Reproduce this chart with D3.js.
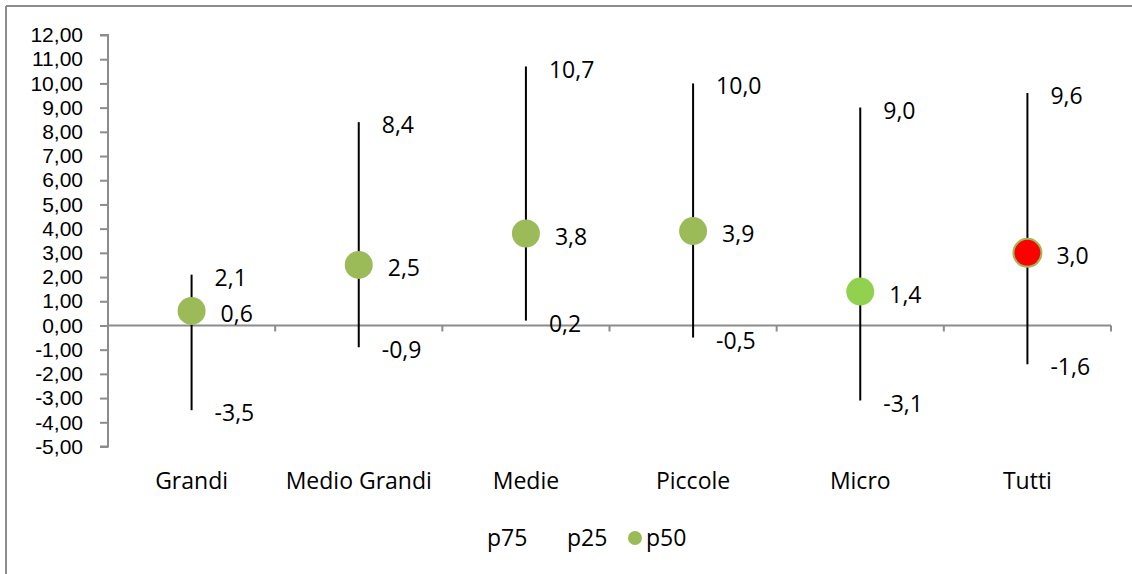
<!DOCTYPE html>
<html>
<head>
<meta charset="utf-8">
<script src="https://cdn.jsdelivr.net/npm/d3@7"></script>
<style>
  body { margin: 0; background: #fff; }
  svg { display: block; font-family: "Open Sans", "Liberation Sans", sans-serif; }
</style>
</head>
<body>
<svg id="chart" width="1132" height="574"></svg>
<script>
// data
const categories = ["Grandi", "Medio Grandi", "Medie", "Piccole", "Micro", "Tutti"];
const p75 = [2.1, 8.4, 10.7, 10.0, 9.0, 9.6];
const p25 = [-3.5, -0.9, 0.2, -0.5, -3.1, -1.6];
const p50 = [0.6, 2.5, 3.8, 3.9, 1.4, 3.0];
const dotColors = ["#9BBB59", "#9BBB59", "#9BBB59", "#9BBB59", "#92D050", "#FF0000"];
const yTicks = d3.range(-5, 13, 1);
const legendNames = ["p75", "p25", "p50"];

const fmt = (v, d) => v.toFixed(d).replace(".", ",");
const FS = 23;

const svg = d3.select("#chart");
const W = 1132, H = 574;

// outer frame (only left & top visible in the crop)
svg.append("line").attr("x1", 6).attr("x2", 6).attr("y1", 6).attr("y2", H)
    .attr("stroke", "#8c8c8c").attr("stroke-width", 2);
svg.append("line").attr("x1", 6).attr("x2", W).attr("y1", 6).attr("y2", 6)
    .attr("stroke", "#8c8c8c").attr("stroke-width", 2);

const plot = { left: 108, right: 1111, top: 35, bottom: 446.5 };

const x = d3.scaleBand()
    .domain(categories)
    .range([plot.left, plot.right]);

const y = d3.scaleLinear()
    .domain([-5, 12])
    .range([plot.bottom, plot.top]);

// y axis
const yAxis = svg.append("g")
    .attr("transform", `translate(${plot.left},0)`)
    .call(d3.axisLeft(y).tickValues(yTicks).tickSize(8).tickPadding(17)
        .tickFormat(d => fmt(d, 2)));
yAxis.select(".domain").attr("stroke", "#8c8c8c").attr("stroke-width", 2)
    .attr("d", `M-8,${y(12)}H0V${y(-5)}H-8`);
yAxis.selectAll(".tick line").attr("stroke", "#8c8c8c").attr("stroke-width", 2);
yAxis.selectAll(".tick text").attr("font-size", 21).attr("fill", "#000")
    .attr("font-family", "Liberation Sans");

// x axis at zero, ticks on category boundaries
svg.append("line")
    .attr("x1", plot.left).attr("x2", plot.right)
    .attr("y1", y(0)).attr("y2", y(0))
    .attr("stroke", "#8c8c8c").attr("stroke-width", 2);
svg.append("g").selectAll("line")
    .data(categories)
    .join("line")
    .attr("x1", d => x(d) + x.bandwidth()).attr("x2", d => x(d) + x.bandwidth())
    .attr("y1", y(0)).attr("y2", y(0) + 6)
    .attr("stroke", "#8c8c8c").attr("stroke-width", 2);

// category labels
svg.append("g").selectAll("text")
    .data(categories)
    .join("text")
    .attr("x", d => x(d) + x.bandwidth() / 2)
    .attr("y", 481)
    .attr("dy", "0.35em")
    .attr("text-anchor", "middle")
    .attr("font-size", FS)
    .text(d => d);

const cx = i => x(categories[i]) + x.bandwidth() / 2;

// p25 - p75 range lines
svg.append("g").selectAll("line")
    .data(categories)
    .join("line")
    .attr("x1", (d, i) => cx(i)).attr("x2", (d, i) => cx(i))
    .attr("y1", (d, i) => y(p25[i])).attr("y2", (d, i) => y(p75[i]))
    .attr("stroke", "#000").attr("stroke-width", 2);

// p50 dots
svg.append("g").selectAll("circle")
    .data(p50)
    .join("circle")
    .attr("cx", (d, i) => cx(i))
    .attr("cy", d => y(d))
    .attr("r", 14)
    .attr("fill", (d, i) => dotColors[i])
    .attr("stroke", (d, i) => i === 5 ? "#9BBB59" : "none")
    .attr("stroke-width", 2);

// value labels
function labels(vals, dx) {
    svg.append("g").selectAll("text")
        .data(vals)
        .join("text")
        .attr("x", (d, i) => cx(i) + dx)
        .attr("y", d => y(d) + 3)
        .attr("dy", "0.35em")
        .attr("font-size", FS)
        .text(d => fmt(d, 1));
}
labels(p75, 23);
labels(p25, 23);
labels(p50, 29);

// legend
const legend = svg.append("g").attr("font-size", FS);
legend.append("text").attr("x", 487).attr("y", 538).attr("dy", "0.35em").text(legendNames[0]);
legend.append("text").attr("x", 567).attr("y", 538).attr("dy", "0.35em").text(legendNames[1]);
legend.append("circle").attr("cx", 635).attr("cy", 538).attr("r", 7).attr("fill", "#9BBB59");
legend.append("text").attr("x", 646).attr("y", 538).attr("dy", "0.35em").text(legendNames[2]);
</script>
</body>
</html>
